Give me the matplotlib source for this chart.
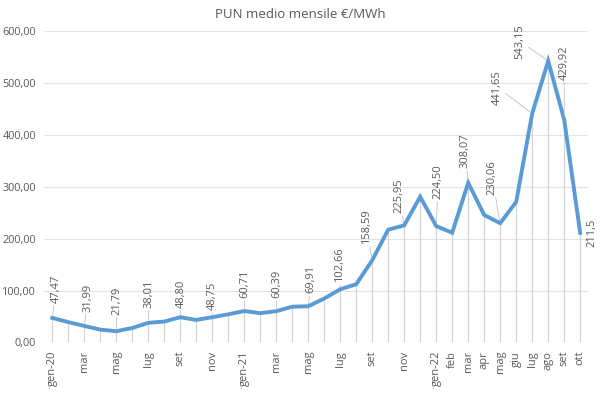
import matplotlib
matplotlib.use("Agg")
import matplotlib.pyplot as plt

plt.rcParams['font.family'] = ['Open Sans', 'DejaVu Sans']

# monthly average PUN, jan 2020 .. oct 2022
pun = [
    47.47, 39.30, 31.99, 24.81, 21.79, 28.01, 38.01, 40.32, 48.80, 43.57, 48.75, 54.34,
    60.71, 56.57, 60.39, 69.02, 69.91, 84.80, 102.66, 112.40, 158.59, 217.63, 225.95, 281.24,
    224.50, 211.69, 308.07, 245.97, 230.06, 271.31, 441.65, 543.15, 429.92, 211.5,
]
month_labels = [
    "gen-20", "", "mar", "", "mag", "", "lug", "", "set", "", "nov", "",
    "gen-21", "", "mar", "", "mag", "", "lug", "", "set", "", "nov", "",
    "gen-22", "feb", "mar", "apr", "mag", "giu", "lug", "ago", "set", "ott",
]
value_labels = [
    "47,47", None, "31,99", None, "21,79", None, "38,01", None, "48,80", None, "48,75", None,
    "60,71", None, "60,39", None, "69,91", None, "102,66", None, "158,59", None, "225,95", None,
    "224,50", None, "308,07", None, "230,06", None, "441,65", "543,15", "429,92", "211,5",
]
y_ticks = [0, 100, 200, 300, 400, 500, 600]

# label offsets in pixels (dx, dy) from the point to the label's bottom centre
label_offsets = {
    0: (4, 15), 2: (4, 14), 4: (1, 16), 6: (1, 15), 8: (1, 9), 10: (0, 7),
    12: (1, 13), 14: (1, 13), 16: (3, 13), 18: (-1, 7), 20: (-6, 16), 22: (-5, 12),
    24: (2, 27), 26: (-3, 15), 28: (-8, 28), 30: (-35, 9), 31: (-28, 2), 32: (0, 40),
}

grey = "#595959"
blue = "#5B9BD5"

fig = plt.figure(figsize=(6, 3.93), dpi=100)
ax = fig.add_axes([0.0738, 0.1285, 0.9065, 0.7915])

x = list(range(len(pun)))
ax.vlines(x, 0, pun, color="#d0d0d0", lw=0.8, zorder=1)
ax.plot(x, pun, color=blue, lw=2.8, solid_joinstyle="miter", zorder=3)

for i, txt in enumerate(value_labels):
    if txt is None:
        continue
    if i == len(pun) - 1:
        ax.annotate(txt, (x[i], pun[i]), xytext=(6, 0), textcoords="offset pixels",
                    rotation=90, ha="left", va="center", fontsize=8, color=grey,
                    annotation_clip=False)
        continue
    dx, dy = label_offsets[i]
    ax.annotate(txt, (x[i], pun[i]), xytext=(dx, dy), textcoords="offset pixels",
                rotation=90, ha="center", va="bottom", fontsize=8, color=grey,
                annotation_clip=False,
                arrowprops=dict(arrowstyle="-", color="#bfbfbf", lw=0.6,
                                shrinkA=0, shrinkB=2))

ax.set_xlim(-0.5, len(pun) - 0.5)
ax.set_ylim(0, 600)
ax.set_yticks(y_ticks)
ax.set_yticklabels([f"{v:.2f}".replace(".", ",") for v in y_ticks])
ax.set_xticks(x)
ax.set_xticklabels(month_labels, rotation=90)
ax.tick_params(length=0, colors=grey, labelsize=8)
ax.tick_params(axis="y", pad=6, labelsize=7.8)
ax.tick_params(axis="x", pad=6)
ax.grid(axis="y", color="#e3e3e3", lw=0.8)
ax.set_axisbelow(True)
for s in ax.spines.values():
    s.set_visible(False)

fig.text(0.5, 0.963, "PUN medio mensile €/MWh", ha="center", va="center",
         fontsize=9.5, color=grey)

fig.savefig("out.png", dpi=100)
